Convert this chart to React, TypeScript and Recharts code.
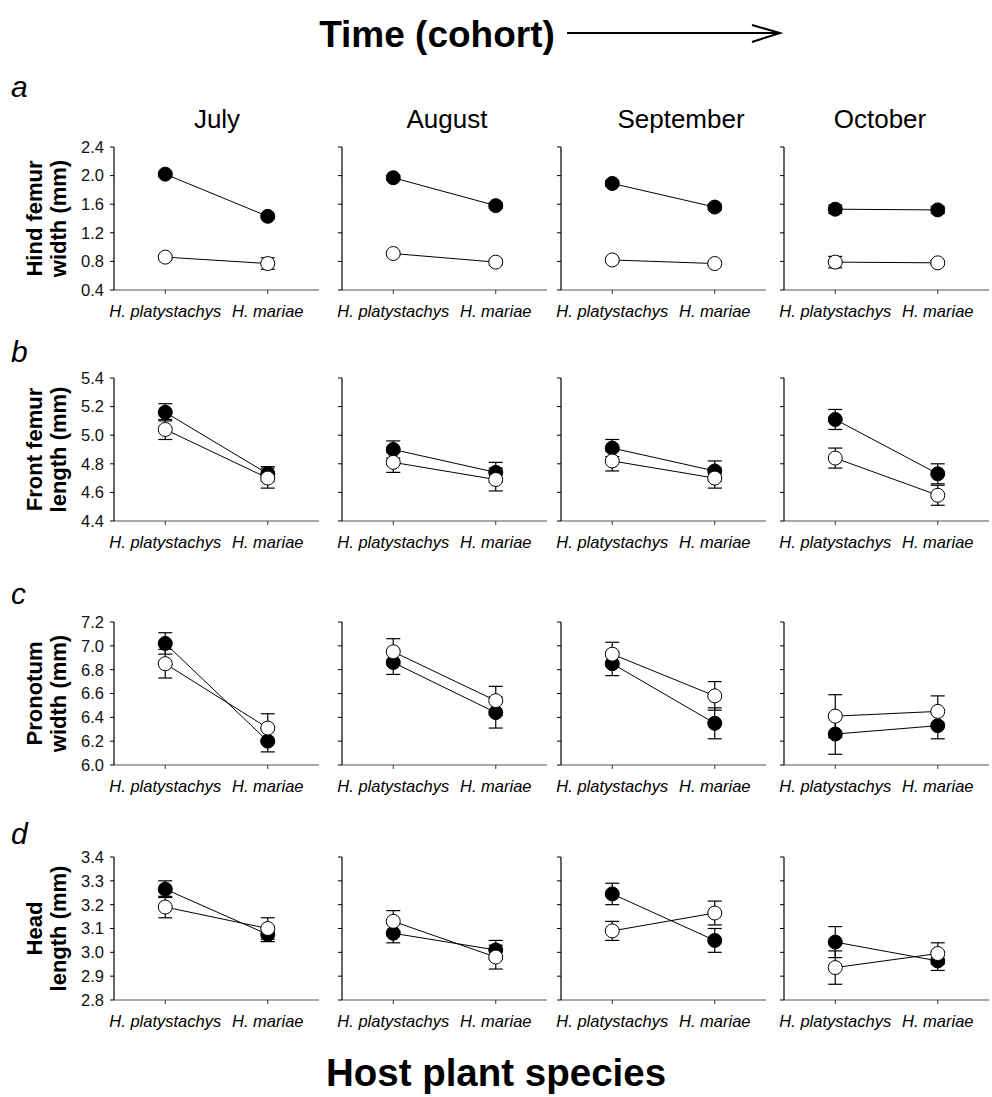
import { LineChart, Line, XAxis, YAxis, ErrorBar } from 'recharts'

const months = ['July', 'August', 'September', 'October']
const hosts = ['H. platystachys', 'H. mariae']
const hostPositions = [1, 3]

// each entry: one month, [H. platystachys, H. mariae]
const hindFemurClosed = [[2.02, 1.43], [1.97, 1.58], [1.89, 1.56], [1.53, 1.52]]
const hindFemurClosedErr = [[0.03, 0.03], [0.03, 0.04], [0.04, 0.04], [0.06, 0.05]]
const hindFemurOpen = [[0.86, 0.77], [0.91, 0.79], [0.82, 0.77], [0.79, 0.78]]
const hindFemurOpenErr = [[0.03, 0.08], [0.03, 0.04], [0.03, 0.03], [0.08, 0.03]]

const frontFemurClosed = [[5.16, 4.73], [4.9, 4.74], [4.91, 4.75], [5.11, 4.73]]
const frontFemurClosedErr = [[0.06, 0.05], [0.06, 0.07], [0.06, 0.07], [0.07, 0.07]]
const frontFemurOpen = [[5.04, 4.7], [4.81, 4.69], [4.82, 4.7], [4.84, 4.58]]
const frontFemurOpenErr = [[0.07, 0.07], [0.07, 0.08], [0.07, 0.07], [0.07, 0.07]]

const pronotumClosed = [[7.02, 6.2], [6.86, 6.44], [6.85, 6.35], [6.26, 6.33]]
const pronotumClosedErr = [[0.09, 0.09], [0.1, 0.13], [0.1, 0.13], [0.17, 0.11]]
const pronotumOpen = [[6.85, 6.31], [6.95, 6.54], [6.93, 6.58], [6.41, 6.45]]
const pronotumOpenErr = [[0.12, 0.12], [0.11, 0.12], [0.1, 0.12], [0.18, 0.13]]

const headClosed = [[3.265, 3.075], [3.08, 3.01], [3.245, 3.05], [3.043, 2.964]]
const headClosedErr = [[0.035, 0.03], [0.04, 0.04], [0.045, 0.05], [0.065, 0.04]]
const headOpen = [[3.19, 3.1], [3.13, 2.98], [3.09, 3.165], [2.936, 2.995]]
const headOpenErr = [[0.045, 0.045], [0.045, 0.05], [0.04, 0.05], [0.07, 0.045]]

const hindFemurTicks = [0.4, 0.8, 1.2, 1.6, 2.0, 2.4]
const frontFemurTicks = [4.4, 4.6, 4.8, 5.0, 5.2, 5.4]
const pronotumTicks = [6.0, 6.2, 6.4, 6.6, 6.8, 7.0, 7.2]
const headTicks = [2.8, 2.9, 3.0, 3.1, 3.2, 3.3, 3.4]

const traits = [
    { letter: 'a', title: ['Hind femur', 'width (mm)'], ticks: hindFemurTicks, closed: hindFemurClosed, closedErr: hindFemurClosedErr, open: hindFemurOpen, openErr: hindFemurOpenErr },
    { letter: 'b', title: ['Front femur', 'length (mm)'], ticks: frontFemurTicks, closed: frontFemurClosed, closedErr: frontFemurClosedErr, open: frontFemurOpen, openErr: frontFemurOpenErr },
    { letter: 'c', title: ['Pronotum', 'width (mm)'], ticks: pronotumTicks, closed: pronotumClosed, closedErr: pronotumClosedErr, open: pronotumOpen, openErr: pronotumOpenErr },
    { letter: 'd', title: ['Head', 'length (mm)'], ticks: headTicks, closed: headClosed, closedErr: headClosedErr, open: headOpen, openErr: headOpenErr },
]

// layout (page pixels)
const colAxisX = [114, 342, 561, 784]
const rowPlotTop = [147, 378, 622, 857]
const monthX = [217, 447, 681, 880]
const letterBaseline = [97, 362, 604, 844]
const PLOT_W = 205
const PLOT_H = 143
const Y_AXIS_W = 50
const FONT = '"Liberation Sans", Arial, Helvetica, sans-serif'

const HostTick = ({ x, y, payload }: any) => {
    const idx = hostPositions.indexOf(payload.value)
    return (
        <text x={x} y={y} dy="0.71em" textAnchor="middle" fontStyle="italic" fontSize={16.5} fill="#000" fontFamily={FONT}>
            {hosts[idx]}
        </text>
    )
}

function Panel({ trait, col, row }: any) {
    const data = hostPositions.map((pos, i) => ({
        x: pos,
        closed: trait.closed[col][i],
        closedErr: trait.closedErr[col][i],
        open: trait.open[col][i],
        openErr: trait.openErr[col][i],
    }))
    const ticks = trait.ticks
    return (
        <div style={{ position: 'absolute', left: colAxisX[col] - Y_AXIS_W, top: rowPlotTop[row] - 10 }}>
            <LineChart
                width={Y_AXIS_W + PLOT_W + 12}
                height={10 + PLOT_H + 32}
                data={data}
                margin={{ top: 10, right: 12, left: 0, bottom: 2 }}
                style={{ fontFamily: FONT, overflow: 'visible' }}
            >
                <XAxis
                    type="number"
                    dataKey="x"
                    domain={[0, 4]}
                    ticks={hostPositions}
                    tick={<HostTick />}
                    tickSize={4}
                    tickMargin={11}
                    height={30}
                    axisLine={{ stroke: '#555', strokeWidth: 1.2 }}
                    tickLine={{ stroke: '#333' }}
                    interval={0}
                />
                <YAxis
                    type="number"
                    domain={[ticks[0], ticks[ticks.length - 1]]}
                    ticks={ticks}
                    allowDataOverflow
                    width={Y_AXIS_W}
                    tickSize={4}
                    tickMargin={6}
                    interval={0}
                    tick={{ fontSize: 16.5, fill: '#111' }}
                    tickFormatter={(v: number) => (col === 0 ? v.toFixed(1) : '')}
                    axisLine={{ stroke: '#000', strokeWidth: 1.2 }}
                    tickLine={{ stroke: '#000' }}
                />
                <Line
                    type="linear"
                    dataKey="closed"
                    stroke="#000"
                    strokeWidth={1}
                    dot={{ r: 7, fill: '#000', stroke: '#000', strokeWidth: 1 }}
                    activeDot={false}
                    isAnimationActive={false}
                >
                    <ErrorBar dataKey="closedErr" direction="y" width={7} stroke="#000" strokeWidth={1.2} />
                </Line>
                <Line
                    type="linear"
                    dataKey="open"
                    stroke="#000"
                    strokeWidth={1}
                    dot={{ r: 7, fill: '#fff', stroke: '#000', strokeWidth: 1 }}
                    activeDot={false}
                    isAnimationActive={false}
                >
                    <ErrorBar dataKey="openErr" direction="y" width={7} stroke="#000" strokeWidth={1.2} />
                </Line>
            </LineChart>
        </div>
    )
}

export default function App() {
    return (
        <div style={{ position: 'absolute', left: 0, top: 0, width: 992, height: 1097, background: '#fff', fontFamily: FONT }}>
            <svg width={992} height={1097} style={{ position: 'absolute', left: 0, top: 0 }}>
                <text x={437} y={47} textAnchor="middle" fontSize={37} fontWeight="bold" fill="#000" fontFamily={FONT}>
                    Time (cohort)
                </text>
                <line x1={567} y1={33} x2={779} y2={33} stroke="#000" strokeWidth={2} />
                <polyline points="752,25 780,33 752,42" fill="none" stroke="#000" strokeWidth={2} />
                {months.map((m, i) => (
                    <text key={m} x={monthX[i]} y={128} textAnchor="middle" fontSize={26} fill="#000" fontFamily={FONT}>
                        {m}
                    </text>
                ))}
                {traits.map((t, r) => {
                    const cy = rowPlotTop[r] + PLOT_H / 2
                    return (
                        <g key={t.letter}>
                            <text x={11} y={letterBaseline[r]} fontSize={30} fontStyle="italic" fill="#000" fontFamily={FONT}>
                                {t.letter}
                            </text>
                            <text
                                transform={`translate(42, ${cy}) rotate(-90)`}
                                textAnchor="middle"
                                fontSize={22}
                                fontWeight="bold"
                                fill="#000"
                                fontFamily={FONT}
                            >
                                {t.title[0]}
                            </text>
                            <text
                                transform={`translate(66, ${cy}) rotate(-90)`}
                                textAnchor="middle"
                                fontSize={22}
                                fontWeight="bold"
                                fill="#000"
                                fontFamily={FONT}
                            >
                                {t.title[1]}
                            </text>
                        </g>
                    )
                })}
                <text x={496} y={1086} textAnchor="middle" fontSize={38.5} fontWeight="bold" fill="#000" fontFamily={FONT}>
                    Host plant species
                </text>
            </svg>
            {traits.map((t, r) => months.map((m, c) => <Panel key={`${r}-${c}`} trait={t} col={c} row={r} />))}
        </div>
    )
}
